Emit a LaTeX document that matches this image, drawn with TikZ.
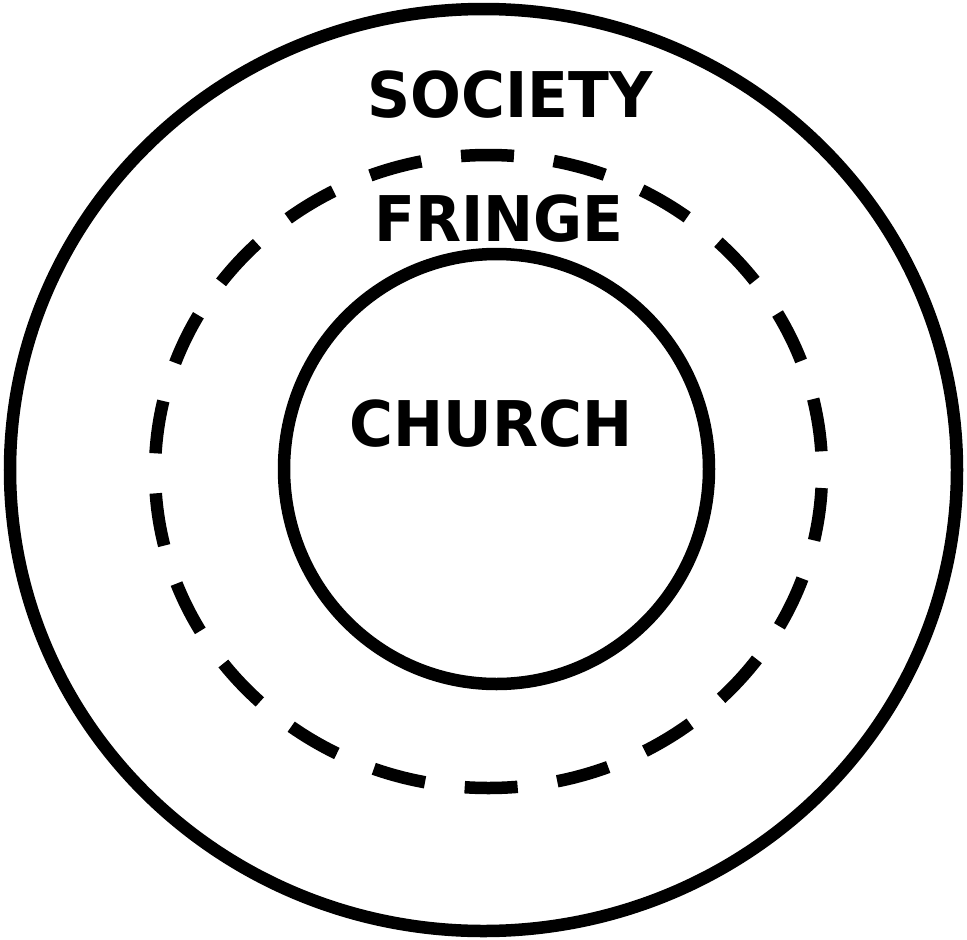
\documentclass[tikz,border=0pt]{standalone}
\usepackage{fontspec}
\setmainfont{DejaVu Sans}
\tikzset{
  ring/.style={draw=black, line width=12.5pt},
  dashring/.style={draw=black, line width=12.5pt, dash pattern=on 53pt off 40pt, dash phase=76.5pt},
  label/.style={font=\bfseries\fontsize{63}{63}\selectfont, inner sep=0pt, anchor=center, xscale=0.95}
}
\begin{document}
\begin{tikzpicture}[x=1pt,y=-1pt]
\useasboundingbox (0,0) rectangle (967,940);
\fill[white] (0,0) rectangle (967,940);
\coordinate (co) at (483.5,470);
\coordinate (cf) at (488.5,471.5);
\coordinate (ci) at (496.5,469);
\draw[ring] (co) ellipse [x radius=473.5, y radius=461];
\draw[dashring] (cf) ellipse [x radius=333.5, y radius=316.5];
\draw[ring] (ci) ellipse [x radius=212.5, y radius=215];
\node[label] (society) at (510,95) {SOCIETY};
\node[label] (fringe) at (499,219) {FRINGE};
\node[label] (church) at (491,424) {CHURCH};
\end{tikzpicture}
\end{document}
